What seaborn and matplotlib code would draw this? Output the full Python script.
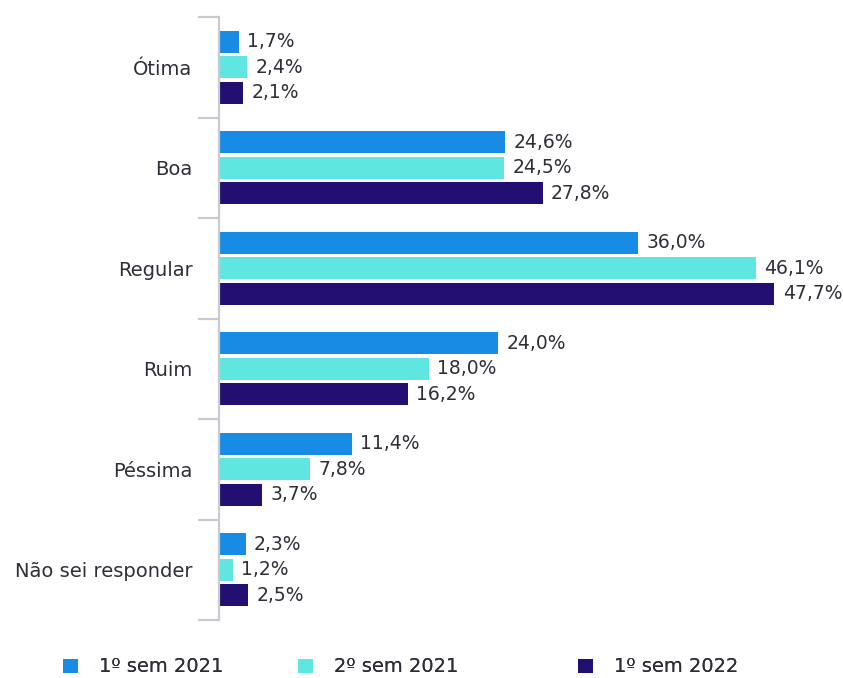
import matplotlib
matplotlib.use("Agg")
import matplotlib.pyplot as plt
from matplotlib.patches import Patch
import seaborn as sns
import pandas as pd

categories = ["Ótima", "Boa", "Regular", "Ruim", "Péssima", "Não sei responder"]
periods = ["1º sem 2021", "2º sem 2021", "1º sem 2022"]
sem1_2021 = [1.7, 24.6, 36.0, 24.0, 11.4, 2.3]
sem2_2021 = [2.4, 24.5, 46.1, 18.0, 7.8, 1.2]
sem1_2022 = [2.1, 27.8, 47.7, 16.2, 3.7, 2.5]

colors = ["#188ce5", "#60e6e1", "#230e72"]
text_color = "#2e2e38"
axis_color = "#c9c9d1"

rows = []
for period, vals in zip(periods, [sem1_2021, sem2_2021, sem1_2022]):
    for cat, v in zip(categories, vals):
        rows.append({"categoria": cat, "periodo": period, "valor": v})
df = pd.DataFrame(rows)

sns.set_style("white")
plt.rcParams["font.family"] = ["DejaVu Sans"]

fig = plt.figure(figsize=(8.43, 6.78), dpi=100)
ax = fig.add_axes([219 / 843, 1 - 620 / 678, 1 - 219 / 843, (620 - 17) / 678])

sns.barplot(data=df, y="categoria", x="valor", hue="periodo", order=categories,
            hue_order=periods, palette=colors, orient="h", width=0.76, gap=0.13,
            saturation=1, legend=False, linewidth=0, ax=ax)

for cont in ax.containers:
    labels = [f"{b.get_width():.1f}%".replace(".", ",") for b in cont]
    ax.bar_label(cont, labels=labels, padding=6, fontsize=13.5, color=text_color)

ax.set_xlim(0, 53.6)
ax.set_ylim(5.5, -0.5)
ax.set_xlabel("")
ax.set_ylabel("")
ax.set_xticks([])

for s in ["top", "right", "bottom"]:
    ax.spines[s].set_visible(False)
ax.spines["left"].set_color(axis_color)
ax.spines["left"].set_linewidth(1.6)

ax.set_yticks(range(len(categories)))
ax.set_yticklabels(categories, fontsize=14, color=text_color)
ax.tick_params(axis="y", which="major", left=False, length=0, pad=19)
ax.set_yticks([i - 0.5 for i in range(len(categories) + 1)], minor=True)
ax.tick_params(axis="y", which="minor", left=True, length=15, width=1.6, color=axis_color)

# one legend per entry so the uneven spacing of the original can be kept
legend_x = [63 / 843, 298 / 843, 578 / 843]
for c, label, x in zip(colors, periods, legend_x):
    leg = fig.legend([Patch(facecolor=c, edgecolor="none")], [label],
                     loc="center left", bbox_to_anchor=(x, 1 - 667 / 678),
                     frameon=False, fontsize=14, labelcolor=text_color,
                     handlelength=0.75, handleheight=0.75, handletextpad=1.1,
                     borderpad=0, borderaxespad=0)
    fig.add_artist(leg)

fig.savefig("out.png", dpi=100)
